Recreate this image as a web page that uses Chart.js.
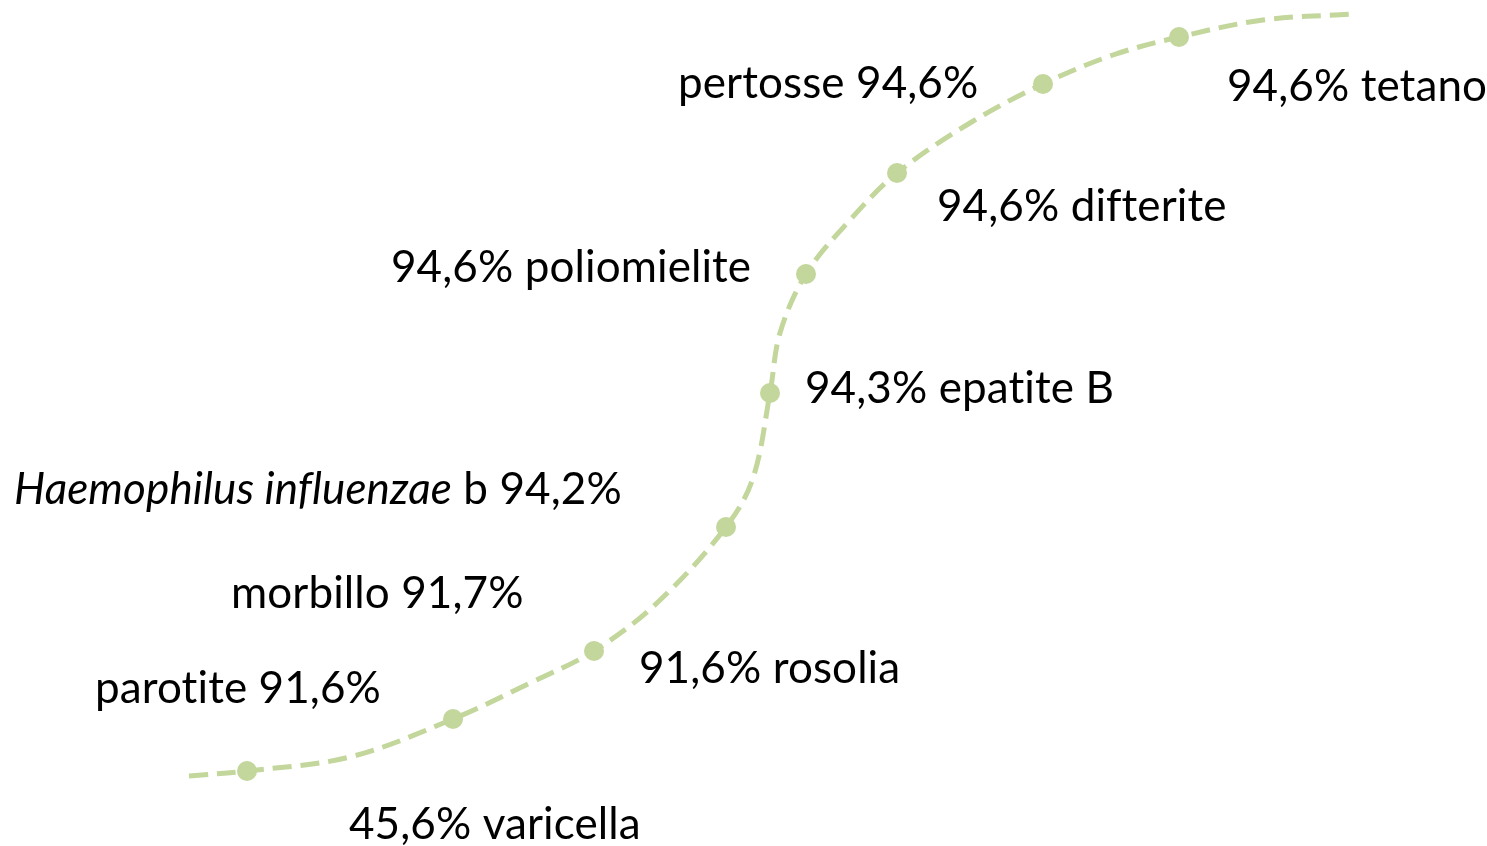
<!DOCTYPE html>
<html>
<head>
<meta charset="utf-8">
<script src="https://cdn.jsdelivr.net/npm/chart.js@4"></script>
<style>
  html, body { margin: 0; padding: 0; background: #fff; }
  #wrap { width: 1487px; height: 846px; }
</style>
</head>
<body>
<div id="wrap"><canvas id="curveChart" width="1487" height="846"></canvas></div>
<script>
// vaccine coverage (%), from the bottom of the curve to the top
const vaccines = ['varicella', 'parotite', 'rosolia', 'morbillo', 'Haemophilus influenzae', 'epatite B', 'poliomielite', 'difterite', 'pertosse', 'tetano'];
const coverage = [45.6, 91.6, 91.6, 91.7, 94.2, 94.3, 94.6, 94.6, 94.6, 94.6];

// dots along the curve (chart units)
const dotX = [247, 453, 594, 726, 770, 806, 897, 1043, 1179];
const dotY = [771, 719, 651, 527, 393, 274, 173, 84, 37];

// dashed curve path (runs past the end dots)
const curveX = [189, 247, 350, 453, 530, 594, 658, 726, 753, 770, 780, 806, 850, 897, 970, 1043, 1113, 1179, 1263, 1352];
const curveY = [776, 771, 757, 719, 683, 651, 602, 527, 478, 393, 333, 274, 220, 173, 123, 84, 55, 37, 20, 14];

// label layout: left edge, vertical middle, and whether the value comes first
const labelX = [349, 95, 639, 231, 14, 805, 391, 937, 678, 1227];
const labelY = [825, 689, 669, 594, 490, 389, 268, 207, 84, 87];
const valueFirst = [true, false, true, false, false, true, true, true, false, true];

const GREEN = '#c3d69b';
const FONT = 'Lato, "Open Sans", sans-serif';
const FONT_SIZE = 44;

function fmt(v) {
  return v.toFixed(1).replace('.', ',') + '%';
}

// build text pieces for every label (italic for the species name)
function labelParts(i) {
  const val = fmt(coverage[i]);
  if (vaccines[i] === 'Haemophilus influenzae') {
    return [{ t: 'Haemophilus influenzae', it: true }, { t: ' b ' + val, it: false }];
  }
  const txt = valueFirst[i] ? val + ' ' + vaccines[i] : vaccines[i] + ' ' + val;
  return [{ t: txt, it: false }];
}

const labelPlugin = {
  id: 'curveLabels',
  afterDatasetsDraw(chart) {
    const { ctx, scales } = chart;
    ctx.save();
    ctx.fillStyle = '#000';
    ctx.textBaseline = 'middle';
    ctx.textAlign = 'left';
    ctx.letterSpacing = '0.1px'; // keeps "ti" from turning into a ligature
    vaccines.forEach((v, i) => {
      let x = scales.x.getPixelForValue(labelX[i]);
      const y = scales.y.getPixelForValue(labelY[i]);
      labelParts(i).forEach((p) => {
        ctx.font = (p.it ? 'italic ' : '') + FONT_SIZE + 'px ' + FONT;
        ctx.fillText(p.t, x, y);
        x += ctx.measureText(p.t).width;
      });
    });
    ctx.restore();
  },
};

new Chart(document.getElementById('curveChart'), {
  type: 'scatter',
  data: {
    datasets: [
      {
        data: curveX.map((x, i) => ({ x: x, y: curveY[i] })),
        showLine: true,
        borderColor: GREEN,
        borderWidth: 5,
        borderDash: [19, 9],
        tension: 0.35,
        pointRadius: 0,
        fill: false,
      },
      {
        data: dotX.map((x, i) => ({ x: x, y: dotY[i] })),
        showLine: false,
        pointRadius: 10,
        pointBackgroundColor: GREEN,
        pointBorderWidth: 0,
        pointBorderColor: GREEN,
      },
    ],
  },
  options: {
    responsive: false,
    animation: false,
    layout: { padding: 0, autoPadding: false },
    scales: {
      x: { type: 'linear', min: 0, max: 1487, display: false },
      y: { type: 'linear', min: 0, max: 846, reverse: true, display: false },
    },
    plugins: {
      legend: { display: false },
      tooltip: { enabled: false },
    },
  },
  plugins: [labelPlugin],
});
</script>
</body>
</html>
